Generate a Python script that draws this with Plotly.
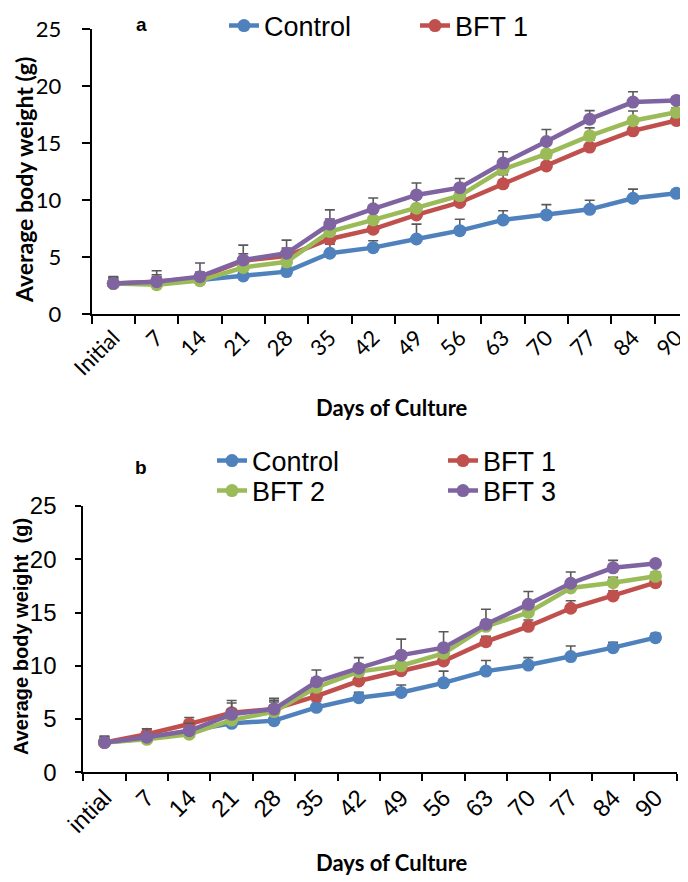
import plotly.graph_objects as go

# ---------------- data ----------------
days_a = ["Initial", "7", "14", "21", "28", "35", "42", "49", "56", "63", "70", "77", "84", "90"]
days_b = ["intial", "7", "14", "21", "28", "35", "42", "49", "56", "63", "70", "77", "84", "90"]
series_names = ["Control", "BFT 1", "BFT 2", "BFT 3"]

a_control = [2.7, 2.7, 3.0, 3.36, 3.74, 5.35, 5.84, 6.6, 7.33, 8.27, 8.71, 9.2, 10.17, 10.6]
a_bft1 = [2.7, 2.86, 3.2, 4.7, 5.1, 6.6, 7.46, 8.71, 9.8, 11.43, 13.0, 14.65, 16.08, 16.98]
a_bft2 = [2.7, 2.6, 2.95, 4.1, 4.6, 7.25, 8.27, 9.3, 10.4, 12.7, 14.06, 15.64, 16.96, 17.7]
a_bft3 = [2.7, 2.86, 3.3, 4.76, 5.35, 7.9, 9.24, 10.46, 11.1, 13.25, 15.14, 17.1, 18.6, 18.74]
a_err_control = [0.5, 0.6, 0.4, 0.5, 0.4, 0.8, 0.6, 1.3, 1.0, 0.8, 0.9, 0.8, 0.8, 0.3]
a_err_bft1 = [0.4, 0.6, 0.5, 0.6, 0.7, 0.8, 0.6, 0.8, 0.7, 0.8, 0.7, 0.6, 0.7, 0.4]
a_err_bft2 = [0.5, 0.6, 0.5, 0.9, 0.9, 1.1, 0.8, 0.9, 0.9, 0.8, 0.9, 0.7, 0.85, 0.4]
a_err_bft3 = [0.6, 0.96, 1.2, 1.3, 1.15, 1.25, 0.95, 1.05, 0.8, 1.0, 1.05, 0.75, 0.9, 0.3]

b_control = [2.8, 3.2, 3.9, 4.6, 4.85, 6.1, 7.0, 7.5, 8.4, 9.5, 10.07, 10.86, 11.7, 12.64]
b_bft1 = [2.8, 3.57, 4.54, 5.6, 5.95, 7.16, 8.57, 9.54, 10.45, 12.26, 13.7, 15.4, 16.55, 17.8]
b_bft2 = [2.8, 3.1, 3.57, 4.9, 5.7, 7.98, 9.45, 10.0, 11.17, 13.7, 15.0, 17.3, 17.8, 18.4]
b_bft3 = [2.8, 3.29, 3.9, 5.44, 5.94, 8.5, 9.77, 11.0, 11.7, 13.9, 15.77, 17.75, 19.2, 19.6]
b_err_control = [0.5, 0.5, 0.5, 0.6, 0.5, 0.6, 0.5, 0.7, 1.1, 1.0, 0.7, 1.0, 0.5, 0.4]
b_err_bft1 = [0.4, 0.5, 0.6, 0.9, 0.8, 0.7, 0.6, 0.7, 0.6, 0.5, 0.6, 0.7, 0.5, 0.4]
b_err_bft2 = [0.4, 0.4, 0.5, 1.0, 0.9, 0.9, 0.7, 0.9, 0.8, 0.6, 0.6, 0.6, 0.5, 0.4]
b_err_bft3 = [0.6, 0.8, 0.7, 1.3, 1.0, 1.1, 1.0, 1.5, 1.5, 1.4, 1.2, 1.05, 0.7, 0.3]

y_ticks = [0, 5, 10, 15, 20, 25]

colors = ["#4F81BD", "#C0504D", "#9BBB59", "#8064A2"]

# page is shown with an 8px body margin, so the figure is 8px smaller
OFF = 8
W, H = 688 - OFF, 882 - OFF
NARROW = "Liberation Sans Narrow, Arial Narrow, Liberation Sans, Arial, sans-serif"
CALIBRI = "Lato, Carlito, Calibri, sans-serif"
ARIAL = "Liberation Sans, Arial, sans-serif"

fig = go.Figure()

panel_a = [a_control, a_bft1, a_bft2, a_bft3]
panel_a_err = [a_err_control, a_err_bft1, a_err_bft2, a_err_bft3]
panel_b = [b_control, b_bft1, b_bft2, b_bft3]
panel_b_err = [b_err_control, b_err_bft1, b_err_bft2, b_err_bft3]

for i, name in enumerate(series_names):
    fig.add_trace(go.Scatter(
        x=days_a, y=panel_a[i], name=name, mode="lines+markers",
        xaxis="x", yaxis="y",
        line=dict(color=colors[i], width=4.5),
        marker=dict(color=colors[i], size=13),
        error_y=dict(type="data", array=panel_a_err[i], arrayminus=[0] * len(days_a),
                     symmetric=False, color="#595959", thickness=1.6, width=5),
        legend="legend", showlegend=(i < 2),
    ))

legend_for_b = ["legend2", "legend2", "legend3", "legend3"]
for i, name in enumerate(series_names):
    fig.add_trace(go.Scatter(
        x=days_b, y=panel_b[i], name=name, mode="lines+markers",
        xaxis="x2", yaxis="y2",
        line=dict(color=colors[i], width=4.5),
        marker=dict(color=colors[i], size=13),
        error_y=dict(type="data", array=panel_b_err[i], arrayminus=[0] * len(days_b),
                     symmetric=False, color="#595959", thickness=1.6, width=5),
        legend=legend_for_b[i], showlegend=True,
    ))


def px_x(p):
    return (p - OFF) / W


def px_y(p):
    return 1 - (p - OFF) / H


axis_common = dict(showgrid=False, zeroline=False, showline=True, linecolor="black",
                   linewidth=2, ticks="outside", tickcolor="black", tickwidth=1.5,
                   automargin=False)


def ann(text, x, y, size, family, angle=0):
    return dict(text=text, x=px_x(x), y=px_y(y), xref="paper", yref="paper",
                xanchor="center", yanchor="middle", showarrow=False, textangle=angle,
                font=dict(family=family, size=size, color="black"))


fig.update_layout(
    width=W, height=H,
    margin=dict(l=0, r=0, t=0, b=0, autoexpand=False),
    paper_bgcolor="white", plot_bgcolor="white",
    xaxis=dict(**axis_common, type="category", domain=[px_x(91.7), 1.0],
               range=[-0.5, 13.27], tickson="boundaries", ticklen=8,
               tickangle=-45, tickfont=dict(family=CALIBRI, size=22, color="black"),
               anchor="y"),
    yaxis=dict(**axis_common, domain=[px_y(314.3), px_y(29)], range=[0, 25],
               tickvals=y_ticks, ticklen=8, ticklabelstandoff=16,
               tickfont=dict(family=CALIBRI, size=22, color="black"), anchor="x"),
    xaxis2=dict(**axis_common, type="category", domain=[px_x(83.3), px_x(676.7)],
                range=[-0.5, 13.5], tickson="boundaries", ticklen=7,
                tickangle=-45, tickfont=dict(family=ARIAL, size=24, color="black"),
                anchor="y2"),
    yaxis2=dict(**axis_common, domain=[px_y(772.3), px_y(506)], range=[0, 25],
                tickvals=y_ticks, ticklen=6, ticklabelstandoff=14,
                tickfont=dict(family=ARIAL, size=24, color="black"), anchor="x2"),
    legend=dict(orientation="h", x=px_x(224), y=px_y(26), xanchor="left", yanchor="middle",
                font=dict(family=NARROW, size=27, color="black"), entrywidth=146,
                bgcolor="rgba(0,0,0,0)", tracegroupgap=0),
    legend2=dict(orientation="h", x=px_x(212), y=px_y(461), xanchor="left", yanchor="middle",
                 font=dict(family=NARROW, size=27, color="black"), entrywidth=186,
                 bgcolor="rgba(0,0,0,0)"),
    legend3=dict(orientation="h", x=px_x(212), y=px_y(491), xanchor="left", yanchor="middle",
                 font=dict(family=NARROW, size=27, color="black"), entrywidth=186,
                 bgcolor="rgba(0,0,0,0)"),
    annotations=[
        ann("<b>a</b>", 141, 24, 19, ARIAL),
        ann("<b>b</b>", 141, 467, 19, ARIAL),
        ann("<b>Average body weight (g)</b>", 24, 180, 23, CALIBRI, -90),
        ann("<b>Average body weight\u00a0 (g)</b>", 21, 637, 20, ARIAL, -90),
        ann("<b>Days of Culture</b>", 392, 407, 22, CALIBRI),
        ann("<b>Days of Culture</b>", 392, 862, 22, CALIBRI),
    ],
)

fig.write_html("out.html")
